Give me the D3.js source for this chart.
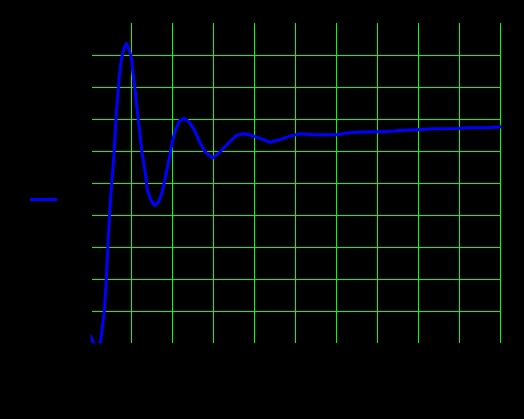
<!DOCTYPE html>
<html>
<head>
<meta charset="utf-8">
<script src="https://cdn.jsdelivr.net/npm/d3@7"></script>
<style>
  html, body { margin: 0; padding: 0; background: #000; }
  svg { display: block; }
</style>
</head>
<body>
<div id="chart"></div>
<script>
// step response samples
var timeVals = [0, 0.12, 0.24, 0.30, 0.34, 0.38, 0.42, 0.46, 0.51, 0.55, 0.59, 0.63, 0.67, 0.71, 0.75, 0.79, 0.83, 0.88, 0.93, 1.00,
  1.03, 1.09, 1.14, 1.20, 1.25, 1.32, 1.39, 1.48, 1.56, 1.66, 1.74, 1.83, 1.91, 1.99, 2.07, 2.18, 2.30, 2.42, 2.54, 2.67,
  2.79, 2.98, 3.15, 3.36, 3.56, 3.72, 3.89, 4.09, 4.38, 4.62, 4.87, 5.11, 5.44, 6.01, 6.25, 6.50, 7.23, 7.55, 7.96, 8.37,
  8.94, 9.19, 9.76, 10.0]
var responseVals = [0.02, -0.016, -0.003, 0.059, 0.10, 0.184, 0.288, 0.39, 0.484, 0.547, 0.622, 0.716, 0.778, 0.84, 0.881, 0.906, 0.922, 0.934, 0.919, 0.891,
  0.85, 0.788, 0.725, 0.663, 0.60, 0.547, 0.475, 0.444, 0.428, 0.438, 0.466, 0.516, 0.569, 0.622, 0.663, 0.694, 0.70, 0.688, 0.663, 0.625,
  0.597, 0.576, 0.594, 0.622, 0.647, 0.652, 0.649, 0.64, 0.626, 0.634, 0.645, 0.652, 0.649, 0.649, 0.655, 0.657, 0.659, 0.6625, 0.665, 0.668,
  0.669, 0.671, 0.672, 0.674]
var xTicks = [1, 2, 3, 4, 5, 6, 7, 8, 9, 10]
var yTicks = [0.1, 0.2, 0.3, 0.4, 0.5, 0.6, 0.7, 0.8, 0.9]

var width = 524, height = 419
var plot = {left: 90.5, right: 500, top: 22.5, bottom: 342.5}

var svg = d3.select("#chart").append("svg")
  .attr("width", width)
  .attr("height", height)
svg.append("rect").attr("width", width).attr("height", height).style("fill", "#000")

var x = d3.scaleLinear().domain([0, 10]).range([plot.left, plot.right])
var y = d3.scaleLinear().domain([0, 1]).range([plot.bottom, plot.top])

// grid (green), drawn as axis ticks; labels are black on black like the original
var xAxis = d3.axisBottom(x).tickValues(xTicks).tickSizeInner(-(plot.bottom - plot.top)).tickSizeOuter(0).tickPadding(6)
var gx = svg.append("g").attr("class", "xaxis")
  .attr("transform", "translate(0," + plot.bottom + ")")
  .call(xAxis)
gx.select(".domain").remove()
gx.selectAll("line").style("stroke", "#00ff00").style("shape-rendering", "crispEdges")
gx.selectAll("text").style("fill", "#000")

var yAxis = d3.axisLeft(y).tickValues(yTicks).tickSizeInner(-(plot.right - plot.left - 1)).tickSizeOuter(0).tickPadding(6)
var gy = svg.append("g").attr("class", "yaxis")
  .attr("transform", "translate(" + (plot.left + 1) + ",0)")
  .call(yAxis)
gy.select(".domain").remove()
gy.selectAll("line").style("stroke", "#00ff00").style("shape-rendering", "crispEdges")
gy.selectAll("text").style("fill", "#000")

svg.append("clipPath").attr("id", "plotClip")
  .append("rect")
  .attr("x", plot.left)
  .attr("y", plot.top)
  .attr("width", plot.right - plot.left + 2)
  .attr("height", plot.bottom - plot.top + 1)

var data = timeVals.map(function(t, i){ return {t: t, v: responseVals[i]} })
var line = d3.line()
  .x(function(d) { return x(d.t) })
  .y(function(d) { return y(d.v) })

svg.append("path").datum(data)
  .attr("class", "response")
  .attr("clip-path", "url(#plotClip)")
  .attr("d", line)
  .style("fill", "none")
  .style("stroke", "#0000ff")
  .style("stroke-width", "3px")
  .style("stroke-linejoin", "round")
  .style("stroke-linecap", "square")

// legend swatch
svg.append("line")
  .attr("x1", 30).attr("x2", 57)
  .attr("y1", 199.5).attr("y2", 199.5)
  .style("stroke", "#0000ff")
  .style("stroke-width", "3px")
</script>
</body>
</html>
